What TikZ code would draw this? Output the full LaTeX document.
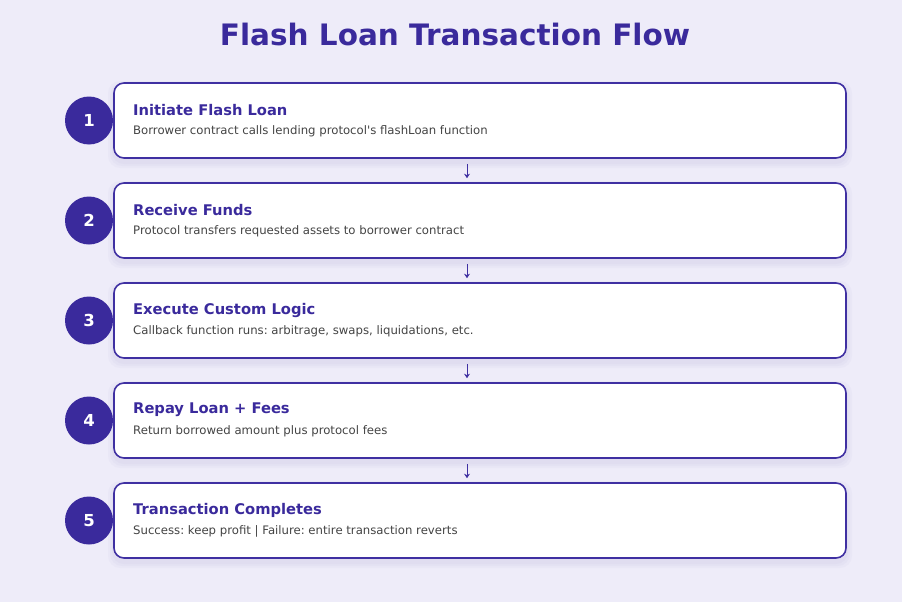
\documentclass[tikz,border=0pt]{standalone}
\usepackage{fontspec}
\setmainfont{DejaVu Sans}
\frenchspacing
\definecolor{bgcol}{HTML}{EEECF9}
\definecolor{ink}{HTML}{3A2A9C}
\definecolor{edgecol}{HTML}{3F30A2}
\definecolor{desccol}{HTML}{444444}
\tikzset{
  stepbox/.style={draw=edgecol, line width=1.6pt, fill=white, rounded corners=10pt,
    minimum width=732pt, minimum height=75pt, inner sep=0pt},
  stepnum/.style={circle, fill=ink, text=white, minimum size=48pt, inner sep=0pt,
    font=\bfseries\fontsize{16.5}{18}\selectfont},
  steptitle/.style={anchor=west, text=ink, inner sep=0pt, font=\bfseries\fontsize{14.7}{16}\selectfont},
  stepdesc/.style={anchor=west, text=desccol, inner sep=0pt, font=\fontsize{11.7}{13}\selectfont},
  flow/.style={draw=edgecol, line width=1pt, -{Stealth[length=4.5pt,width=6pt,inset=1.5pt]}, shorten <=5pt, shorten >=4pt}
}
\usetikzlibrary{arrows.meta}
\begin{document}
\begin{tikzpicture}[x=1pt,y=-1pt]
\fill[bgcol] (0,0) rectangle (902,602);
\useasboundingbox (0,0) rectangle (902,602);

\node[text=ink, font=\bfseries\fontsize{29.5}{32}\selectfont] (title) at (455,35) {Flash Loan Transaction Flow};

% soft shadows under the boxes
\foreach \y in {120.5,220.5,320.5,420.5,520.5}
  \foreach \s in {2,4,6}
    \fill[ink, opacity=0.025, rounded corners=12pt] (114-\s,\y-37.5+4-\s) rectangle (846+\s,\y+37.5+4+\s);

\node[stepbox] (b1) at (480,120.5) {};
\node[stepbox] (b2) at (480,220.5) {};
\node[stepbox] (b3) at (480,320.5) {};
\node[stepbox] (b4) at (480,420.5) {};
\node[stepbox] (b5) at (480,520.5) {};

\node[stepnum] (n1) at (89,120.5) {1};
\node[stepnum] (n2) at (89,220.5) {2};
\node[stepnum] (n3) at (89,320.5) {3};
\node[stepnum] (n4) at (89,420.5) {4};
\node[stepnum] (n5) at (89,520.5) {5};

\node[steptitle] (t1) at (133,110) {Initiate Flash Loan};
\node[stepdesc] (d1) at (133,131.5) {Borrower contract calls lending protocol\textquotesingle s flashLoan function};
\node[steptitle] (t2) at (133,210) {Receive Funds};
\node[stepdesc] (d2) at (133,231.5) {Protocol transfers requested assets to borrower contract};
\node[steptitle] (t3) at (133,310) {Execute Custom Logic};
\node[stepdesc] (d3) at (133,331.5) {Callback function runs: arbitrage, swaps, liquidations, etc.};
\node[steptitle] (t4) at (133,410) {Repay Loan + Fees};
\node[stepdesc] (d4) at (133,431.5) {Return borrowed amount plus protocol fees};
\node[steptitle] (t5) at (133,510) {Transaction Completes};
\node[stepdesc] (d5) at (133,531.5) {Success: keep profit | Failure: entire transaction reverts};

\draw[flow] (b1.south -| 467,0) -- (b2.north -| 467,0);
\draw[flow] (b2.south -| 467,0) -- (b3.north -| 467,0);
\draw[flow] (b3.south -| 467,0) -- (b4.north -| 467,0);
\draw[flow] (b4.south -| 467,0) -- (b5.north -| 467,0);
\end{tikzpicture}
\end{document}
